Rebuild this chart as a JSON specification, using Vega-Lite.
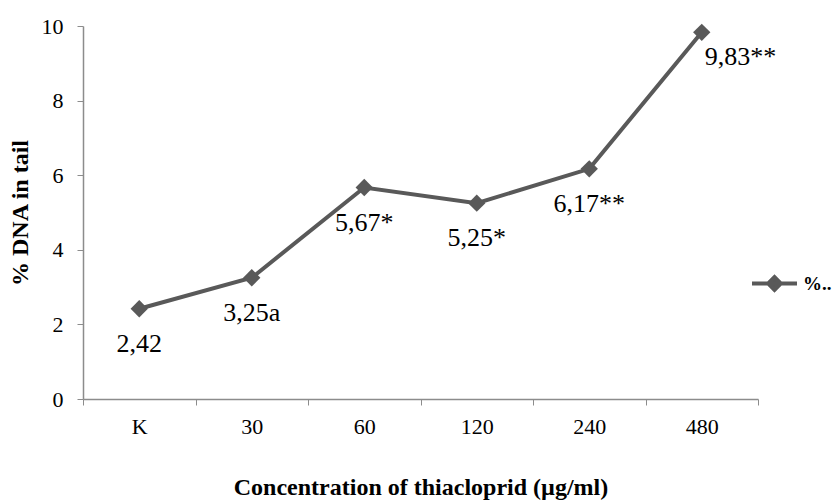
{
  "$schema": "https://vega.github.io/schema/vega-lite/v6.json",
  "width": 675,
  "height": 373,
  "autosize": {"type": "none"},
  "padding": {"left": 83, "top": 26, "right": 74, "bottom": 101},
  "background": "white",
  "config": {
    "font": "'Liberation Serif', 'Times New Roman', 'DejaVu Serif', serif",
    "view": {"stroke": null}
  },
  "data": {
    "values": [
      {"conc": "K", "value": 2.42, "label": "2,42", "series": "%.."},
      {"conc": "30", "value": 3.25, "label": "3,25a", "series": "%.."},
      {"conc": "60", "value": 5.67, "label": "5,67*", "series": "%.."},
      {"conc": "120", "value": 5.25, "label": "5,25*", "series": "%.."},
      {"conc": "240", "value": 6.17, "label": "6,17**", "series": "%.."},
      {"conc": "480", "value": 9.83, "label": "9,83**", "series": "%.."}
    ]
  },
  "encoding": {
    "x": {
      "field": "conc",
      "type": "ordinal",
      "sort": null,
      "scale": {"paddingInner": 0, "paddingOuter": 0},
      "axis": {
        "title": "Concentration of thiacloprid (µg/ml)",
        "titleFont": "'Liberation Serif', 'Times New Roman', serif",
        "titleFontSize": 24,
        "titleFontWeight": "bold",
        "titleColor": "#000000",
        "titlePadding": 38,
        "labelAngle": 0,
        "labelFont": "'Liberation Serif', 'Times New Roman', serif",
        "labelFontSize": 22,
        "labelColor": "#000000",
        "labelPadding": 11,
        "tickBand": "extent",
        "tickSize": 6,
        "tickColor": "#8c8c8c",
        "domainColor": "#8c8c8c",
        "domainWidth": 1.5
      }
    },
    "y": {
      "field": "value",
      "type": "quantitative",
      "scale": {"domain": [0, 10], "nice": false},
      "axis": {
        "title": "% DNA in tail",
        "titleFont": "'Liberation Serif', 'Times New Roman', serif",
        "titleFontSize": 24,
        "titleFontWeight": "bold",
        "titleColor": "#000000",
        "titlePadding": 9,
        "values": [0, 2, 4, 6, 8, 10],
        "grid": false,
        "labelFont": "'Liberation Serif', 'Times New Roman', serif",
        "labelFontSize": 22,
        "labelColor": "#000000",
        "labelPadding": 14,
        "tickSize": 6,
        "tickColor": "#8c8c8c",
        "domainColor": "#8c8c8c",
        "domainWidth": 1.5
      }
    }
  },
  "layer": [
    {
      "mark": {"type": "line", "strokeWidth": 4, "color": "#595959"},
      "encoding": {
        "color": {
          "field": "series",
          "type": "nominal",
          "scale": {"range": ["#595959"]},
          "legend": {
            "orient": "none",
            "legendX": 667,
            "legendY": 233,
            "title": null,
            "padding": 0,
            "symbolType": "M-1,0H1M-0.28,0L0,-0.28L0.28,0L0,0.28Z",
            "symbolSize": 2025,
            "symbolStrokeWidth": 4,
            "symbolFillColor": "#595959",
            "symbolStrokeColor": "#595959",
            "labelFont": "'Liberation Serif', 'Times New Roman', serif",
            "labelFontSize": 19,
            "labelFontWeight": "bold",
            "labelColor": "#000000",
            "labelLimit": 60,
            "labelOffset": 4
          }
        }
      }
    },
    {
      "mark": {"type": "point", "shape": "diamond", "filled": true, "size": 300, "color": "#595959", "opacity": 1}
    },
    {
      "transform": [{"filter": "datum.conc != '480'"}],
      "mark": {"type": "text", "dy": 35, "fontSize": 26, "font": "'Liberation Serif', 'Times New Roman', serif", "color": "#000000"},
      "encoding": {"text": {"field": "label"}}
    },
    {
      "transform": [{"filter": "datum.conc == '480'"}],
      "mark": {"type": "text", "dy": 25, "dx": 3, "align": "left", "fontSize": 26, "font": "'Liberation Serif', 'Times New Roman', serif", "color": "#000000"},
      "encoding": {"text": {"field": "label"}}
    }
  ]
}
